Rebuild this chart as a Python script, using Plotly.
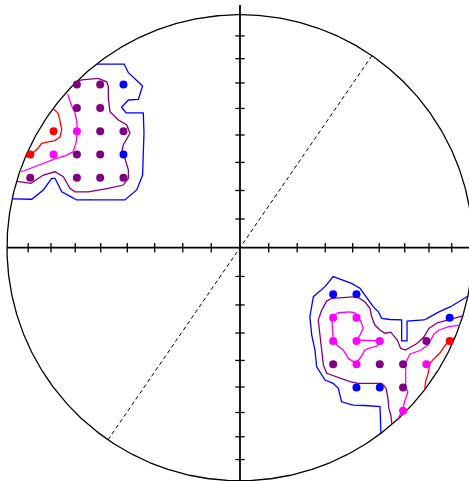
# %% --------------------------------
# import
import numpy as np
import plotly.graph_objects as go

# %% data: counting grid, radius of the net = 10 grid cells
# grid points by density class
blue_x = [-5, -5, 4, 5, 9, 5, 6]
blue_y = [7, 4, -2, -2, -3, -6, -6]
purple_x = [-7, -6, -7, -6, -6, -5, -7, -6, -9, -7, -6, -5, 8, 4, 6, 7, 7]
purple_y = [7, 7, 6, 6, 5, 5, 4, 4, 3, 3, 3, 3, -4, -5, -5, -5, -6]
magenta_x = [-7, -8, 4, 5, 4, 5, 6, 5, 8, 7]
magenta_y = [5, 4, -3, -3, -4, -4, -4, -5, -5, -7]
red_x = [-8, -9, 9]
red_y = [5, 4, -4]

# contour lines (traced), north-west cluster
blue_nw_x = [-6.15, -4.97, -4.79, -4.18, -4.36, -4.79, -5.08, -4.89, -4.15, -4.12, -4.15, -4.18,
             -4.43, -4.94, -5.72, -7.01, -7.27, -7.65, -7.94, -8.08, -8.44, -8.94, -9.78]
blue_nw_y = [7.88, 7.88, 7.51, 6.94, 6.37, 6.34, 6.03, 5.79, 5.79, 4.91, 4.05, 3.12,
             2.48, 2.05, 2.05, 2.05, 2.19, 2.40, 2.98, 2.98, 2.48, 2.08, 2.10]
purple_nw_x = [-6.97, -6.79, -6.08, -5.72, -5.65, -5.65, -5.58, -5.22, -4.86, -4.72, -5.01, -5.08,
               -4.94, -4.79, -4.79, -5.01, -5.65, -6.51, -7.08, -7.30, -7.58, -7.94, -8.44, -8.97, -9.58]
purple_nw_y = [7.15, 7.20, 7.27, 7.12, 6.91, 6.41, 5.84, 5.48, 5.27, 4.91, 4.41, 4.05,
               3.84, 3.33, 2.98, 2.69, 2.55, 2.40, 2.40, 2.55, 3.05, 3.26, 3.12, 2.76, 2.85]
magenta_nw_x = [-7.40, -7.22, -7.08, -7.00, -6.98, -7.04, -7.17, -7.51, -7.94, -8.41, -8.88, -9.40]
magenta_nw_y = [6.60, 6.08, 5.78, 5.39, 4.92, 4.49, 4.11, 3.94, 3.81, 3.64, 3.46, 3.25]
red_nw_x = [-8.00, -7.81, -7.73, -7.65, -7.73, -7.94, -8.23, -8.51, -8.66, -8.97, -9.20]
red_nw_y = [5.95, 5.78, 5.48, 5.05, 4.75, 4.60, 4.54, 4.48, 4.28, 3.98, 3.90]

# contour lines (traced), south-east cluster
blue_se_x = [6.05, 6.04, 6.01, 5.36, 4.86, 4.36, 4.22, 4.00, 3.65, 3.29, 3.22, 3.08, 3.00, 3.15,
             3.65, 4.00, 4.43, 4.79, 5.15, 5.36, 5.58, 5.72, 5.94, 6.08, 6.44, 6.94, 6.94, 7.17,
             7.17, 7.90, 8.04, 8.54, 9.04, 9.79]
blue_se_y = [-7.95, -7.39, -6.82, -6.77, -6.75, -6.61, -6.03, -5.82, -5.68, -5.11, -4.39, -3.75,
             -2.96, -2.10, -1.67, -1.24, -1.39, -1.53, -1.74, -2.03, -2.32, -2.53, -2.75, -3.03,
             -3.08, -3.10, -4.00, -4.00, -3.15, -3.10, -3.03, -2.75, -2.53, -2.07]
purple_se_x = [6.52, 6.48, 6.39, 6.35, 6.27, 6.08, 5.58, 5.08, 4.72, 4.15, 3.72, 3.58, 3.51, 3.43,
               3.36, 3.51, 3.72, 3.94, 5.01, 5.36, 5.58, 5.65, 5.79, 6.01, 6.22, 6.47, 6.75, 6.90,
               7.11, 7.61, 7.90, 8.11, 8.47, 9.18, 9.59]
purple_se_y = [-7.57, -7.22, -6.88, -6.45, -6.02, -5.82, -5.82, -5.82, -5.75, -5.54, -5.39, -5.03,
               -4.39, -3.75, -3.10, -2.67, -2.29, -2.17, -2.10, -2.32, -2.60, -2.96, -3.32, -3.53,
               -3.67, -3.62, -3.96, -4.32, -4.39, -4.10, -3.82, -3.46, -3.22, -3.03, -2.91]
magenta_loop_x = [3.94, 3.97, 4.00, 4.15, 4.43, 4.65, 4.98, 5.19, 5.36, 5.58, 5.88, 5.98, 5.58,
                  5.01, 5.15, 5.29, 5.22, 5.08, 4.94, 4.72, 4.22, 3.94]
magenta_loop_y = [-2.96, -3.53, -3.96, -4.18, -4.39, -4.75, -4.96, -4.69, -4.39, -4.30, -4.22,
                  -4.00, -3.98, -3.96, -3.75, -3.46, -3.24, -2.96, -2.79, -2.75, -2.79, -2.96]
magenta_se_x = [9.44, 8.97, 8.54, 8.33, 8.07, 7.73, 7.30, 7.12, 7.11, 7.11, 7.21, 7.06, 6.98, 6.78]
magenta_se_y = [-3.32, -3.39, -3.53, -3.70, -4.18, -4.41, -4.56, -4.91, -5.33, -5.97, -6.18,
                -6.62, -6.97, -7.35]
red_se_x = [9.20, 8.98, 8.76, 8.58, 8.33, 8.15, 8.08, 7.97, 7.93]
red_se_y = [-3.87, -4.00, -4.25, -4.52, -4.76, -4.96, -5.38, -5.72, -6.08]

# net: tick dips (equal-area) and strike of the dashed vertical plane
tick_dips = [10, 20, 30, 40, 50, 60, 70, 80]
plane_strike = 34.5
R = 10

BLUE, PURPLE, MAGENTA, RED = '#0000FF', '#800080', '#FF00FF', '#FF0000'

# %% figure
fig = go.Figure()

# primitive circle
theta = np.linspace(0, 2 * np.pi, 721)
fig.add_trace(go.Scatter(x=R * np.cos(theta), y=R * np.sin(theta), mode='lines',
                         line=dict(color='black', width=1.3)))

# axes
fig.add_trace(go.Scatter(x=[-R, R + 0.5], y=[0, 0], mode='lines',
                         line=dict(color='black', width=1.8)))
fig.add_trace(go.Scatter(x=[0, 0], y=[-R - 0.5, R + 0.42], mode='lines',
                         line=dict(color='black', width=1.8)))

# ticks at equal-area radii
tick_r = R * np.sqrt(2) * np.sin(np.radians(tick_dips) / 2)
tx, ty = [], []
for r in tick_r:
    for s in (-1, 1):
        tx += [s * r, s * r, None, -0.2, 0.2, None]
        ty += [-0.2, 0.2, None, s * r, s * r, None]
fig.add_trace(go.Scatter(x=tx, y=ty, mode='lines', line=dict(color='black', width=1.3)))

# dashed vertical plane
sx, sy = R * np.sin(np.radians(plane_strike)), R * np.cos(np.radians(plane_strike))
fig.add_trace(go.Scatter(x=[-sx, sx], y=[-sy, sy], mode='lines',
                         line=dict(color='black', width=1, dash='4px,3px')))

# contours
contours = [
    (blue_nw_x, blue_nw_y, BLUE), (purple_nw_x, purple_nw_y, PURPLE),
    (magenta_nw_x, magenta_nw_y, MAGENTA), (red_nw_x, red_nw_y, RED),
    (blue_se_x, blue_se_y, BLUE), (purple_se_x, purple_se_y, PURPLE),
    (magenta_loop_x, magenta_loop_y, MAGENTA), (magenta_se_x, magenta_se_y, MAGENTA),
    (red_se_x, red_se_y, RED),
]
for cx, cy, col in contours:
    fig.add_trace(go.Scatter(x=cx, y=cy, mode='lines', line=dict(color=col, width=1.3)))

# grid points
for px_, py_, col in [(blue_x, blue_y, BLUE), (purple_x, purple_y, PURPLE),
                      (magenta_x, magenta_y, MAGENTA), (red_x, red_y, RED)]:
    fig.add_trace(go.Scatter(x=px_, y=py_, mode='markers',
                             marker=dict(color=col, size=8, line=dict(width=0))))

fig.update_layout(width=469, height=481, margin=dict(l=0, r=0, t=0, b=0),
                  plot_bgcolor='white', paper_bgcolor='white', showlegend=False)
fig.update_xaxes(range=[-10.30, 9.83], visible=False, fixedrange=True)
fig.update_yaxes(range=[-10.01, 10.63], visible=False, fixedrange=True)

fig.write_html("out.html", post_script="document.body.style.margin='0';",
               config={'displayModeBar': False})
